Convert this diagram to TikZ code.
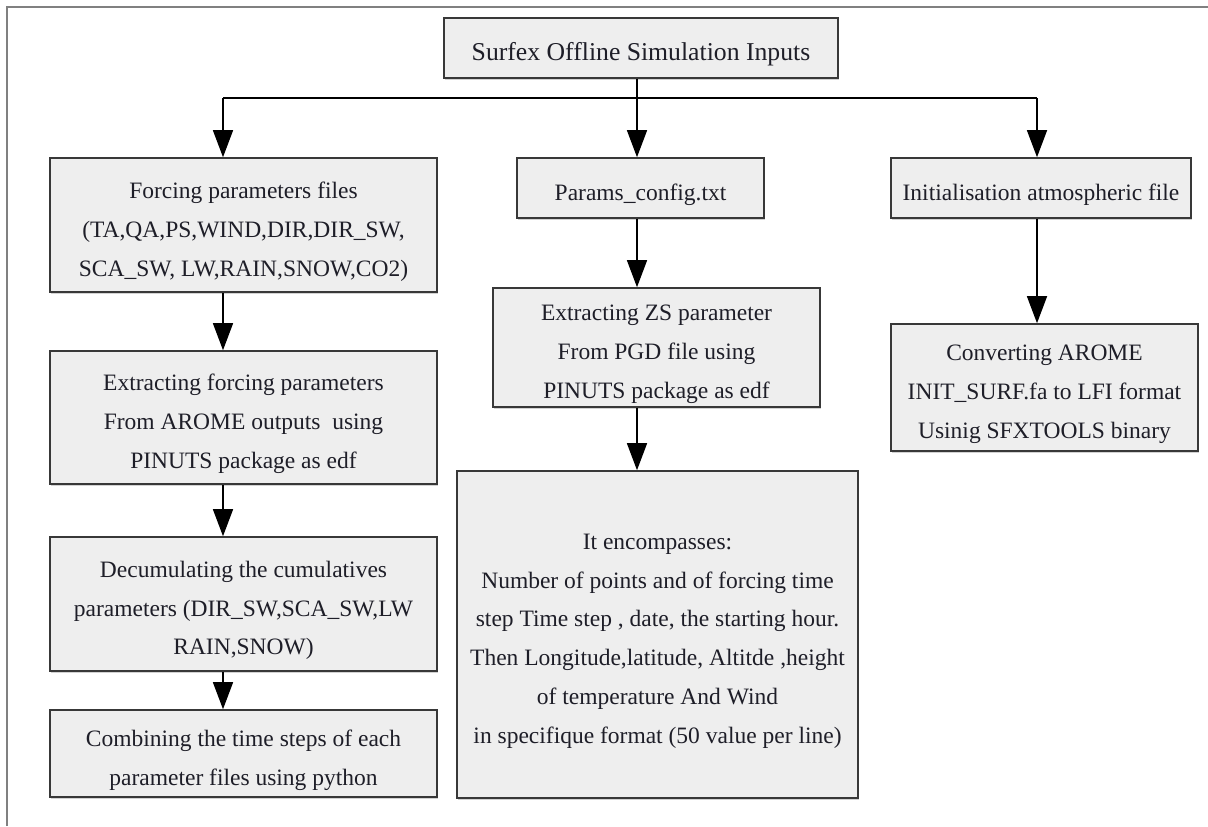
\documentclass[tikz,border=0pt]{standalone}
\usepackage{fontspec}
\setmainfont{Liberation Serif}
\usetikzlibrary{arrows.meta,shadows,fit}
\definecolor{boxfill}{HTML}{EEEEEE}
\definecolor{boxline}{HTML}{383838}
\definecolor{txt}{HTML}{1E1E28}
\definecolor{framec}{HTML}{808080}
\begin{document}
\begin{tikzpicture}[x=0.5pt,y=-0.5pt,
  box/.style={draw=boxline,line width=0.8pt,fill=boxfill,inner sep=0pt,
    drop shadow={shadow xshift=0.4pt,shadow yshift=-0.8pt,opacity=0.35}},
  lbl/.style={text=txt,align=center,inner sep=0pt,
    font=\fontsize{11.75}{19.4}\selectfont,yshift=-3.25pt},
  ttl/.style={lbl,font=\fontsize{12.85}{19.4}\selectfont},
  conn/.style={draw=black,line width=0.7pt},
  arr/.style={conn,-{Triangle[length=13.5pt,width=10pt]}}]
\useasboundingbox (0,0) rectangle (1208,826);
\fill[white] (0,0) rectangle (1208,826);
\draw[framec,line width=1pt] (7,826) -- (7,7) -- (1208,7);

% boxes
\node[box,fit={(444,18) (838,78)}] (top) {};
\node[box,fit={(50,158) (437,292)}] (forcing) {};
\node[box,fit={(50,351) (437,484)}] (extract) {};
\node[box,fit={(50,537) (437,671)}] (decum) {};
\node[box,fit={(50,710) (437,797)}] (combine) {};
\node[box,fit={(517,158) (764,218)}] (params) {};
\node[box,fit={(493,288) (820,407)}] (zs) {};
\node[box,fit={(457,471) (858,798)}] (enc) {};
\node[box,fit={(891,158) (1191,218)}] (init) {};
\node[box,fit={(891,324) (1198,451)}] (conv) {};

% texts
\node[ttl] (topt) at (top.center) {Surfex Offline Simulation Inputs};
\node[lbl] (forcingt) at (forcing.center) {Forcing parameters files\\(TA,QA,PS,WIND,DIR,DIR\_SW,\\SCA\_SW, LW,RAIN,SNOW,CO2)};
\node[lbl] (extractt) at (extract.center) {Extracting forcing parameters\\From AROME outputs~ using\\PINUTS package as edf};
\node[lbl] (decumt) at (decum.center) {Decumulating the cumulatives\\parameters (DIR\_SW,SCA\_SW,LW\\RAIN,SNOW)};
\node[lbl] (combinet) at (combine.center) {Combining the time steps of each\\parameter files using python};
\node[lbl] (paramst) at (params.center) {Params\_config.txt};
\node[lbl] (zst) at (zs.center) {Extracting ZS parameter\\From PGD file using\\PINUTS package as edf};
\node[lbl] (enct) at (enc.center) {It encompasses:\\Number of points and of forcing time\\step Time step , date, the starting hour.\\Then Longitude,latitude, Altitde ,height\\of temperature And Wind\\in specifique format (50 value per line)};
\node[lbl] (initt) at (init.center) {Initialisation atmospheric file};
\node[lbl] (convt) at (conv.center) {Converting AROME\\INIT\_SURF.fa to LFI format\\Usinig SFXTOOLS binary};

% connectors
\coordinate (cL) at (223,98);
\coordinate (cM) at (637,98);
\coordinate (cR) at (1037,98);
\draw[conn] (top.south -| cM) -- (cM);
\draw[conn] (cL) -- (cR);
\draw[arr] (cL) -- (cL |- forcing.north);
\draw[arr] (cM) -- (cM |- params.north);
\draw[arr] (cR) -- (cR |- init.north);
\draw[arr] (cL |- forcing.south) -- (cL |- extract.north);
\draw[arr] (cL |- extract.south) -- (cL |- decum.north);
\draw[arr] (cL |- decum.south) -- (cL |- combine.north);
\draw[arr] (cM |- params.south) -- (cM |- zs.north);
\draw[arr] (cM |- zs.south) -- (cM |- enc.north);
\draw[arr] (cR |- init.south) -- (cR |- conv.north);
\end{tikzpicture}
\end{document}
